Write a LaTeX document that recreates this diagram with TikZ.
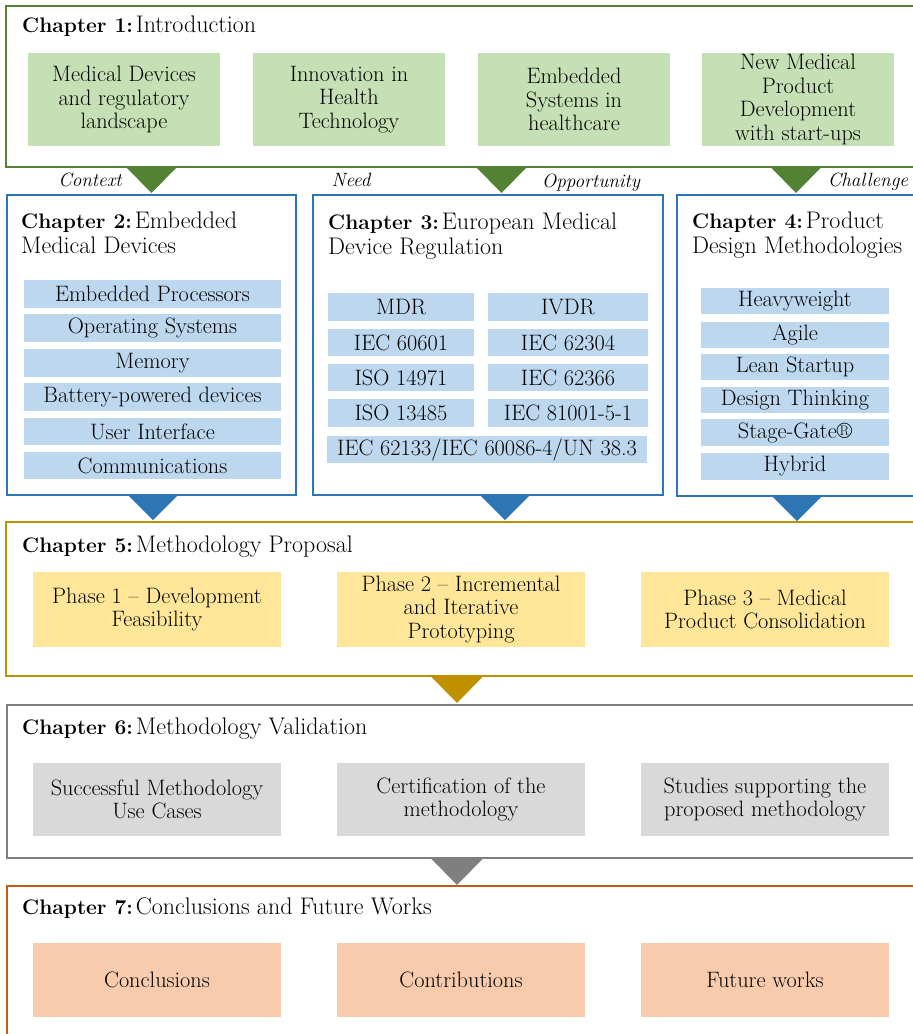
\documentclass[tikz,border=0pt]{standalone}
\usetikzlibrary{calc}
\definecolor{gbord}{HTML}{548235}
\definecolor{gfill}{HTML}{C5E0B4}
\definecolor{bbord}{HTML}{2E75B6}
\definecolor{bfill}{HTML}{BDD7EE}
\definecolor{ybord}{HTML}{BF9000}
\definecolor{yfill}{HTML}{FFE699}
\definecolor{kbord}{HTML}{7F7F7F}
\definecolor{kfill}{HTML}{D9D9D9}
\definecolor{obord}{HTML}{C55A11}
\definecolor{ofill}{HTML}{F8CBAD}
\newcommand\itemfont{\fontsize{22.3}{23.5}\selectfont}
\newcommand\titlefont{\fontsize{24}{25}\selectfont}
\newcommand\tagfont{\fontsize{19.2}{20}\selectfont\itshape}
\newcommand\chap[1]{{\fontsize{21}{25}\selectfont\bfseries Chapter #1:}\hspace{3pt}}
% rectangle node from corner (x1,y1) to corner (x2,y2)
\newcommand\boxat[7]{\node[#6, minimum width={#4-#2}, minimum height={#5-#3}] (#1) at (#2,#3) {#7};}
\tikzset{
  frame/.style={draw, line width=2pt, fill=white, inner sep=0pt, outer sep=0pt, anchor=north west},
  cell/.style={inner sep=0pt, outer sep=0pt, anchor=north west, align=center, font=\itemfont},
  ttl/.style={inner sep=0pt, anchor=north west, align=left, font=\titlefont},
  tag/.style={inner sep=0pt, anchor=base, font=\tagfont},
}
\begin{document}
\begin{tikzpicture}[x=1pt,y=-1pt]
\useasboundingbox (0,0) rectangle (913,1034);

% chapter frames
\boxat{ch1}{6}{6}{922}{167}{frame, draw=gbord}{}
\boxat{ch2}{7}{195}{296}{495}{frame, draw=bbord}{}
\boxat{ch3}{313}{195}{663}{495}{frame, draw=bbord}{}
\boxat{ch4}{677}{195}{922}{496}{frame, draw=bbord}{}
\boxat{ch5}{6}{522}{922}{676}{frame, draw=ybord}{}
\boxat{ch6}{7}{705}{922}{858}{frame, draw=kbord}{}
\boxat{ch7}{7}{886}{922}{1045}{frame, draw=obord}{}

% downward pointers between chapters
\fill[gbord] ($(ch1.south west)+(120,0)$) -- ++(51,0) -- ++(-25.5,26) -- cycle;
\fill[gbord] ($(ch1.south west)+(470,0)$) -- ++(51,0) -- ++(-25.5,26) -- cycle;
\fill[gbord] ($(ch1.south west)+(764.5,0)$) -- ++(51,0) -- ++(-25.5,26) -- cycle;
\fill[bbord] ($(ch2.south west)+(121,0)$) -- ++(50,0) -- ++(-25,25) -- cycle;
\fill[bbord] ($(ch3.south west)+(167,0)$) -- ++(50,0) -- ++(-25,25) -- cycle;
\fill[bbord] ($(ch4.south west)+(95,0)$) -- ++(50,0) -- ++(-25,25) -- cycle;
\fill[ybord] ($(ch5.south west)+(424.5,0)$) -- ++(53,0) -- ++(-26.5,27) -- cycle;
\fill[kbord] ($(ch6.south west)+(423.5,0)$) -- ++(53,0) -- ++(-26.5,27) -- cycle;

% pointer labels
\node[tag] (tctx) at (90,186) {Context};
\node[tag] (tneed) at (351,186) {Need};
\node[tag] (topp) at (591,187) {Opportunity};
\node[tag] (tchal) at (868,186) {Challenge};

% titles
\node[ttl] (t1) at (22,15.3) {\chap{1}Introduction};
\node[ttl] (t2) at (21,211.3) {\chap{2}Embedded\\Medical Devices};
\node[ttl] (t3) at (328,212.3) {\chap{3}European Medical\\Device Regulation};
\node[ttl] (t4) at (692,211.3) {\chap{4}Product\\Design Methodologies};
\node[ttl] (t5) at (22,535.3) {\chap{5}Methodology Proposal};
\node[ttl] (t6) at (22,717.3) {\chap{6}Methodology Validation};
\node[ttl] (t7) at (22,897.3) {\chap{7}Conclusions and Future Works};

% chapter 1 topics
\boxat{a1}{28}{53}{220}{146}{cell, fill=gfill}{Medical Devices\\and regulatory\\landscape}
\boxat{a2}{253}{53}{445}{146}{cell, fill=gfill}{Innovation in\\Health\\Technology}
\boxat{a3}{478}{53}{670}{146}{cell, fill=gfill}{Embedded\\Systems in\\healthcare}
\boxat{a4}{702}{53}{894}{146}{cell, fill=gfill}{New Medical\\Product\\Development\\with start-ups}

% chapter 2 topics
\boxat{b1}{24}{280}{281}{308}{cell, fill=bfill}{Embedded Processors}
\boxat{b2}{24}{314}{281}{342}{cell, fill=bfill}{Operating Systems}
\boxat{b3}{24}{349}{281}{377}{cell, fill=bfill}{Memory}
\boxat{b4}{24}{383}{281}{411}{cell, fill=bfill}{Battery-powered devices}
\boxat{b5}{24}{418}{281}{445}{cell, fill=bfill}{User Interface}
\boxat{b6}{24}{452}{281}{479}{cell, fill=bfill}{Communications}

% chapter 3 topics
\boxat{c1}{328}{293}{474}{321}{cell, fill=bfill}{MDR}
\boxat{c2}{488}{293}{648}{321}{cell, fill=bfill}{IVDR}
\boxat{c3}{328}{329}{474}{356}{cell, fill=bfill}{IEC 60601}
\boxat{c4}{488}{329}{648}{356}{cell, fill=bfill}{IEC 62304}
\boxat{c5}{328}{364}{474}{391}{cell, fill=bfill}{ISO 14971}
\boxat{c6}{488}{364}{648}{391}{cell, fill=bfill}{IEC 62366}
\boxat{c7}{328}{399}{474}{427}{cell, fill=bfill}{ISO 13485}
\boxat{c8}{488}{399}{648}{427}{cell, fill=bfill}{IEC 81001-5-1}
\boxat{c9}{327}{436}{647}{463}{cell, fill=bfill}{IEC 62133/IEC 60086-4/UN 38.3}

% chapter 4 topics
\boxat{d1}{701}{288}{889}{314}{cell, fill=bfill}{Heavyweight}
\boxat{d2}{701}{322}{889}{348}{cell, fill=bfill}{Agile}
\boxat{d3}{701}{354}{889}{380}{cell, fill=bfill}{Lean Startup}
\boxat{d4}{701}{387}{889}{413}{cell, fill=bfill}{Design Thinking}
\boxat{d5}{701}{419}{889}{446}{cell, fill=bfill}{Stage-Gate\textregistered}
\boxat{d6}{701}{453}{889}{480}{cell, fill=bfill}{Hybrid}

% chapter 5 phases
\boxat{e1}{33}{572}{281}{647}{cell, fill=yfill}{Phase 1 -- Development\\Feasibility}
\boxat{e2}{337}{572}{585}{647}{cell, fill=yfill}{Phase 2 -- Incremental\\and Iterative\\Prototyping}
\boxat{e3}{641}{572}{889}{647}{cell, fill=yfill}{Phase 3 -- Medical\\Product Consolidation}

% chapter 6 validation
\boxat{f1}{33}{763}{281}{836}{cell, fill=kfill}{Successful Methodology\\Use Cases}
\boxat{f2}{337}{763}{585}{836}{cell, fill=kfill}{Certification of the\\methodology}
\boxat{f3}{641}{763}{889}{836}{cell, fill=kfill}{Studies supporting the\\proposed methodology}

% chapter 7 outcomes
\boxat{g1}{33}{943}{281}{1017}{cell, fill=ofill}{Conclusions}
\boxat{g2}{337}{943}{585}{1017}{cell, fill=ofill}{Contributions}
\boxat{g3}{641}{943}{889}{1017}{cell, fill=ofill}{Future works}
\end{tikzpicture}
\end{document}
